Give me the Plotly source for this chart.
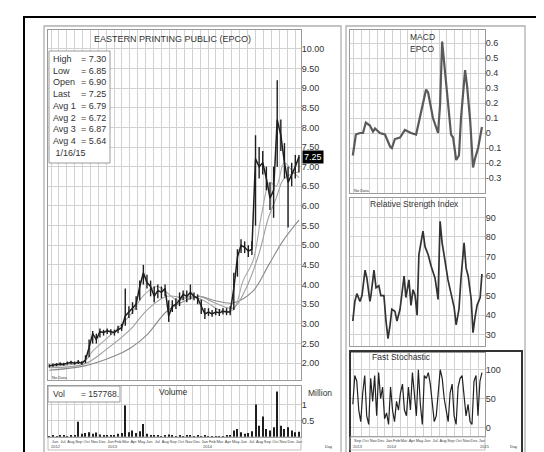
import plotly.graph_objects as go
import pandas as pd

W, H = 544, 452
FONT = "Liberation Sans, Arial, sans-serif"

# ---------------- data ----------------
title_text = "EASTERN PRINTING PUBLIC (EPCO)"
stat_labels = ["High", "Low", "Open", "Last", "Avg 1", "Avg 2", "Avg 3", "Avg 4"]
stat_values = ["7.30", "6.85", "6.90", "7.25", "6.79", "6.72", "6.87", "5.64"]
stat_date = "1/16/15"
vol_last = "157768."

price_dates = pd.date_range("2012-05-25", periods=70, freq="14D")
price_close = [1.93, 1.95, 1.96, 1.98, 1.97, 2.00, 2.02, 2.00, 2.03, 2.00,
               2.08, 2.40, 2.75, 2.60, 2.80, 2.78, 2.82, 2.80, 2.78, 2.85,
               2.90, 3.20, 3.30, 3.40, 3.50, 3.95, 4.30, 4.05, 3.95, 3.70,
               3.85, 3.80, 3.90, 3.20, 3.45, 3.50, 3.60, 3.75, 3.70, 3.80,
               3.70, 3.65, 3.45, 3.25, 3.30, 3.25, 3.30, 3.28, 3.32, 3.30,
               3.30, 3.90, 4.70, 5.00, 4.95, 4.85, 4.90, 7.20, 7.00, 7.10,
               6.70, 6.20, 6.40, 8.20, 7.80, 7.10, 6.60, 6.80, 7.00, 7.25]
price_high = [1.97, 1.99, 2.00, 2.02, 2.01, 2.04, 2.06, 2.04, 2.08, 2.05,
              2.20, 2.60, 2.82, 2.75, 2.88, 2.85, 2.88, 2.86, 2.85, 2.95,
              3.00, 3.90, 3.45, 3.55, 3.70, 4.10, 4.50, 4.25, 4.10, 3.95,
              4.00, 3.95, 4.00, 3.60, 3.60, 3.65, 3.80, 3.85, 3.85, 4.00,
              3.80, 3.75, 3.62, 3.40, 3.40, 3.35, 3.40, 3.38, 3.40, 3.40,
              3.45, 4.30, 4.90, 5.15, 5.10, 5.00, 5.10, 7.80, 7.50, 7.40,
              7.00, 6.60, 7.00, 9.20, 8.20, 7.60, 7.00, 7.10, 7.30, 7.30]
price_low = [1.89, 1.91, 1.92, 1.94, 1.93, 1.96, 1.97, 1.96, 1.98, 1.96,
             2.00, 2.15, 2.50, 2.50, 2.65, 2.70, 2.74, 2.72, 2.70, 2.76,
             2.82, 2.95, 3.15, 3.25, 3.35, 3.60, 4.00, 3.90, 3.70, 3.55,
             3.65, 3.65, 3.70, 3.05, 3.30, 3.38, 3.45, 3.60, 3.55, 3.62,
             3.60, 3.50, 3.25, 3.12, 3.20, 3.18, 3.22, 3.20, 3.24, 3.22,
             3.22, 3.35, 4.20, 4.80, 4.80, 4.70, 4.75, 5.50, 6.70, 6.80,
             6.40, 5.90, 5.70, 7.00, 7.40, 6.70, 5.45, 6.50, 6.70, 6.85]
volume_m = [0.03, 0.04, 0.03, 0.05, 0.04, 0.03, 0.05, 0.06, 0.47, 0.10,
            0.12, 0.15, 0.10, 0.14, 0.08, 0.05, 0.04, 0.06, 0.04, 0.10,
            0.12, 0.97, 0.15, 0.20, 0.12, 0.18, 0.40, 0.10, 0.06, 0.04,
            0.05, 0.03, 0.06, 0.08, 0.04, 0.03, 0.05, 0.03, 0.04, 0.06,
            0.03, 0.04, 0.03, 0.05, 0.03, 0.02, 0.03, 0.02, 0.03, 0.04,
            0.05, 0.20, 0.25, 0.15, 0.10, 0.12, 0.18, 1.00, 0.35, 0.63,
            0.25, 0.20, 0.30, 1.40, 0.35, 0.25, 0.30, 0.20, 0.15, 0.16]

ma2_dates = ["2012-05-25", "2012-10-09", "2012-11-08", "2013-02-01", "2013-04-03",
             "2013-05-26", "2013-07-16", "2013-08-23", "2013-10-01", "2013-11-27",
             "2014-01-24", "2014-03-15", "2014-05-06", "2014-06-14", "2014-07-22",
             "2014-08-25", "2014-09-25", "2014-10-20", "2014-11-20", "2014-12-20",
             "2015-01-16"]
ma2 = [1.92, 2.05, 2.30, 2.80, 3.22, 3.73, 3.95, 3.80, 3.60, 3.70,
       3.55, 3.35, 3.35, 4.10, 4.60, 5.80, 6.60, 6.50, 7.10, 6.90, 6.72]

ma3_dates = ["2012-05-25", "2012-10-09", "2013-01-01", "2013-04-03", "2013-06-07",
             "2013-08-23", "2013-11-07", "2013-12-27", "2014-02-19", "2014-05-06",
             "2014-06-25", "2014-08-15", "2014-09-20", "2014-10-20", "2014-11-20",
             "2015-01-16"]
ma3 = [1.88, 1.98, 2.35, 2.85, 3.35, 3.70, 3.65, 3.70, 3.55, 3.40,
       3.90, 4.80, 5.70, 6.20, 6.70, 6.87]

ma4_dates = ["2012-05-25", "2012-10-09", "2013-02-01", "2013-04-03", "2013-06-07",
             "2013-08-23", "2013-11-07", "2013-12-27", "2014-02-19", "2014-05-06",
             "2014-07-22", "2014-09-21", "2014-11-14", "2015-01-16"]
ma4 = [1.82, 1.93, 2.18, 2.38, 2.72, 3.32, 3.60, 3.70, 3.60, 3.53,
       3.83, 4.50, 5.10, 5.64]

macd_dates = ["2013-08-28", "2013-09-09", "2013-09-25", "2013-10-07", "2013-10-18",
              "2013-11-03", "2013-11-15", "2013-11-23", "2013-12-12", "2014-01-01",
              "2014-01-21", "2014-01-28", "2014-02-09", "2014-03-01", "2014-03-20",
              "2014-04-13", "2014-05-03", "2014-05-18", "2014-05-30", "2014-06-11",
              "2014-06-19", "2014-07-08", "2014-07-28", "2014-08-05", "2014-08-13",
              "2014-08-24", "2014-09-05", "2014-09-17", "2014-09-25", "2014-10-07",
              "2014-10-18", "2014-10-26", "2014-11-11", "2014-11-19", "2014-12-01",
              "2014-12-12", "2014-12-20", "2015-01-01", "2015-01-16"]
macd = [-0.15, -0.01, 0.00, 0.00, 0.07, 0.05, 0.01, 0.03, 0.00, -0.01,
        -0.09, -0.10, -0.04, -0.03, 0.02, 0.00, -0.01, 0.10, 0.20, 0.29,
        0.27, 0.10, 0.00, 0.19, 0.61, 0.43, 0.19, -0.01, -0.03, -0.18,
        -0.15, 0.10, 0.42, 0.31, 0.08, -0.23, -0.17, -0.10, 0.04]

rsi_dates = ["2013-08-28", "2013-09-05", "2013-09-13", "2013-09-25", "2013-10-03",
             "2013-10-15", "2013-10-22", "2013-11-03", "2013-11-07", "2013-11-19",
             "2013-11-27", "2013-12-08", "2013-12-16", "2013-12-28", "2014-01-05",
             "2014-01-13", "2014-01-21", "2014-01-28", "2014-02-09", "2014-02-17",
             "2014-03-01", "2014-03-09", "2014-03-17", "2014-03-24", "2014-04-05",
             "2014-04-13", "2014-04-21", "2014-04-29", "2014-05-07", "2014-05-14",
             "2014-05-22", "2014-05-30", "2014-06-07", "2014-06-19", "2014-07-01",
             "2014-07-16", "2014-07-24", "2014-07-28", "2014-08-05", "2014-08-13",
             "2014-08-24", "2014-09-05", "2014-09-17", "2014-09-29", "2014-10-07",
             "2014-10-18", "2014-10-26", "2014-11-07", "2014-11-15", "2014-11-23",
             "2014-12-05", "2014-12-12", "2014-12-20", "2014-12-28", "2015-01-09",
             "2015-01-16"]
rsi = [37, 47, 51, 47, 50, 63, 59, 47, 50, 63,
       54, 55, 50, 50, 37, 28, 35, 43, 42, 37,
       43, 53, 60, 49, 58, 45, 53, 50, 40, 71,
       77, 83, 75, 71, 65, 59, 52, 48, 88, 77,
       68, 58, 51, 44, 35, 43, 59, 77, 64, 60,
       48, 31, 39, 45, 49, 61]

stoch = [40, 90, 80, 30, 10, 60, 90, 20, 5, 85,
         45, 90, 20, 95, 50, 70, 15, 25, 5, 70,
         30, 10, 45, 30, 60, 75, 30, 20, 70, 30,
         95, 50, 20, 100, 40, 5, 90, 85, 95, 75,
         40, 10, 20, 60, 100, 85, 50, 30, 10, 60,
         75, 20, 5, 70, 85, 90, 50, 20, 40, 10,
         5, 80, 90, 20, 80, 95]
stoch_dates = pd.date_range("2013-08-28", "2015-01-16", periods=len(stoch))

macd_ticks = [-0.3, -0.2, -0.1, 0, 0.1, 0.2, 0.3, 0.4, 0.5, 0.6]
macd_ticktext = ["-0.3", "-0.2", "-0.1", "0", "0.1", "0.2", "0.3", "0.4", "0.5", "0.6"]
vol_ticks = [0.5, 1]
vol_ticktext = ["0.5", "1"]
stoch_ticks = [0, 50, 100]
main_years = [("2012-05-23", "2012"), ("2013-01-01", "2013"), ("2014-01-01", "2014")]
right_years = [("2013-08-20", "2013"), ("2014-01-01", "2014"), ("2015-01-01", "2015")]

# ---------------- figure ----------------
GRID = "#d2d2d2"
LINE = "#9a9a9a"
DARK = "#1e1e1e"

fig = go.Figure()

for d, v, c in [(ma4_dates, ma4, "#8a8a8a"), (ma3_dates, ma3, "#a0a0a0"), (ma2_dates, ma2, "#a8a8a8")]:
    fig.add_trace(go.Scatter(x=d, y=v, mode="lines", line=dict(color=c, width=1.1, shape="spline"),
                             xaxis="x", yaxis="y", hoverinfo="skip"))

fig.add_trace(go.Scatter(
    x=price_dates, y=price_close, mode="lines",
    line=dict(color=DARK, width=1.5),
    error_y=dict(type="data", symmetric=False,
                 array=[h - c for h, c in zip(price_high, price_close)],
                 arrayminus=[c - l for c, l in zip(price_close, price_low)],
                 thickness=1.4, width=0, color=DARK),
    xaxis="x", yaxis="y"))

fig.add_trace(go.Bar(x=price_dates, y=volume_m, marker=dict(color=DARK, line=dict(width=0)),
                     width=4 * 86400000, xaxis="x2", yaxis="y2"))

fig.add_trace(go.Scatter(x=macd_dates, y=macd, mode="lines", line=dict(color="#5a5a5a", width=2.2),
                         xaxis="x3", yaxis="y3"))
fig.add_trace(go.Scatter(x=rsi_dates, y=rsi, mode="lines", line=dict(color="#333333", width=1.7),
                         xaxis="x4", yaxis="y4"))
fig.add_trace(go.Scatter(x=stoch_dates, y=stoch, mode="lines", line=dict(color="#222222", width=1.2),
                         xaxis="x5", yaxis="y5"))


def py(y):
    return 1 - y / H


def xdom(a, b):
    return [a / W, b / W]


tickfont = dict(size=9, color="#333", family=FONT)
common_x = dict(type="date", showgrid=True, gridcolor=GRID, gridwidth=0.7, dtick="M1",
                showline=True, mirror=True, linecolor=LINE, linewidth=1, zeroline=False, ticks="")
common_y = dict(side="right", showgrid=True, gridcolor=GRID, gridwidth=0.7, showline=True, mirror=True,
                linecolor=LINE, linewidth=1, zeroline=False, ticks="", tickfont=tickfont,
                ticklabelstandoff=-2)

main_range = ["2012-05-20", "2015-01-24"]
right_range = ["2013-08-17", "2015-01-28"]
small_tick = dict(size=4, color="#444", family=FONT)

fig.update_layout(
    width=W, height=H, margin=dict(l=0, r=0, t=0, b=0),
    paper_bgcolor="white", plot_bgcolor="white", showlegend=False,
    font=dict(family=FONT, color="#333"),
    xaxis=dict(common_x, domain=xdom(40, 293), anchor="y", range=main_range,
               tick0="2012-06-01", showticklabels=False),
    yaxis=dict(common_y, domain=[py(372), py(22)], anchor="x", range=[1.57, 10.48],
               dtick=0.5, tick0=0, tickformat=".2f"),
    xaxis2=dict(common_x, domain=xdom(40, 293), anchor="y2", matches="x", range=main_range,
                tick0="2012-06-01", showticklabels=True, tickformat="%b", ticklabelmode="period",
                tickangle=0, tickfont=small_tick),
    yaxis2=dict(common_y, domain=[py(429), py(378)], anchor="x2", range=[0, 1.57],
                tickvals=vol_ticks, ticktext=vol_ticktext),
    xaxis3=dict(common_x, domain=xdom(342, 477), anchor="y3", range=right_range,
                tick0="2013-09-01", showticklabels=False),
    yaxis3=dict(common_y, domain=[py(185), py(22)], anchor="x3", range=[-0.4, 0.687],
                tickvals=macd_ticks, ticktext=macd_ticktext),
    xaxis4=dict(common_x, domain=xdom(342, 477), anchor="y4", matches="x3", range=right_range,
                tick0="2013-09-01", showticklabels=False),
    yaxis4=dict(common_y, domain=[py(338), py(190)], anchor="x4", range=[24.2, 99.9], dtick=10, tick0=0),
    xaxis5=dict(common_x, domain=xdom(342, 477), anchor="y5", matches="x3", range=right_range,
                tick0="2013-09-01", showticklabels=True, tickformat="%b", ticklabelmode="period",
                tickangle=0, tickfont=small_tick),
    yaxis5=dict(common_y, domain=[py(428), py(345)], anchor="x5", range=[-15, 129],
                tickvals=stoch_ticks),
)


def rect(x0, y0, x1, y1, color, width, fill=None, layer="above"):
    return dict(type="rect", xref="paper", yref="paper", x0=x0 / W, x1=x1 / W, y0=py(y1), y1=py(y0),
                line=dict(color=color, width=width), fillcolor=fill, layer=layer)


shapes = [
    rect(16, 9, 537, 470, "black", 2),
    rect(36, 18, 333, 448, "#b0b0b0", 1.3),
    rect(338, 18, 517, 448, "#b0b0b0", 1.3),
    rect(342, 343, 514, 445, "#333333", 2),
    rect(41, 43, 102, 155, "#9a9a9a", 1, fill="white"),
    rect(40, 378, 112, 394, "#9a9a9a", 1, fill="white"),
    rect(40, 429, 293, 442, "#b0b0b0", 0.8),
    rect(342, 429, 477, 442, "#b0b0b0", 0.8),
]
fig.update_layout(shapes=shapes)


def txt(text, x, y, size=8.5, xanchor="center", yanchor="middle", color="#333", **kw):
    return dict(text=text, x=x / W, y=py(y), xref="paper", yref="paper", showarrow=False,
                font=dict(size=size, color=color, family=FONT), xanchor=xanchor, yanchor=yanchor, **kw)


ann = [
    txt(title_text, 164, 31, size=9),
    txt("<br>".join(stat_labels + ["&nbsp;" + stat_date]), 43, 44, size=9, xanchor="left", yanchor="top",
        align="left"),
    txt("<br>".join("= " + v for v in stat_values), 71, 44, size=9, xanchor="left", yanchor="top",
        align="left"),
    dict(text=f"{price_close[-1]:.2f}", x=294 / W, y=price_close[-1], xref="paper", yref="y",
         showarrow=False, xanchor="left", yanchor="middle", bgcolor="black", borderpad=1,
         font=dict(size=9, color="white", family=FONT)),
    txt("No Data", 42, 369, size=4, xanchor="left"),
    txt("No Data", 344, 182, size=4, xanchor="left"),
    txt("Vol", 43, 386, size=8.5, xanchor="left"),
    txt("= " + vol_last, 71, 386, size=8.5, xanchor="left"),
    txt("Volume", 165, 384, size=8.5),
    txt("Million", 298, 385, size=8.5, xanchor="left"),
    txt("MACD", 414, 29, size=8.5),
    txt("EPCO", 414, 41, size=8.5),
    txt("Relative Strength Index", 406, 196, size=8.5),
    txt("Fast Stochastic", 393, 349, size=8.5),
    txt("Day", 320, 438, size=4),
    txt("Day", 505, 438, size=4),
]
for d, label in main_years:
    ann.append(dict(text=label, x=d, xref="x2", y=py(438), yref="paper", showarrow=False,
                    xanchor="left", yanchor="middle", font=dict(size=4, color="#444", family=FONT)))
for d, label in right_years:
    ann.append(dict(text=label, x=d, xref="x5", y=py(438), yref="paper", showarrow=False,
                    xanchor="left", yanchor="middle", font=dict(size=4, color="#444", family=FONT)))
fig.update_layout(annotations=ann)

fig.write_html("out.html")
